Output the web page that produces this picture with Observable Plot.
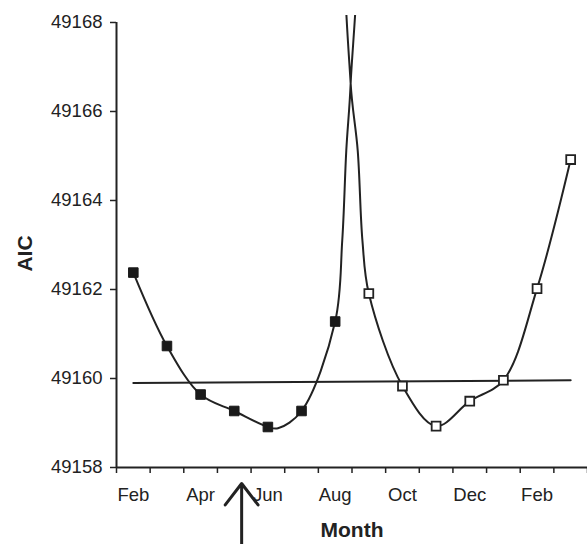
<!DOCTYPE html>
<html><head><meta charset="utf-8">
<script src="https://cdn.jsdelivr.net/npm/d3@7"></script>
<script src="https://cdn.jsdelivr.net/npm/@observablehq/plot@0.6"></script>
<style>body{margin:0;background:#fff}</style>
</head><body><div id="chart"></div>
<script>
// Month bands (index 0..13), observed AIC per month
const months = ["Feb","Mar","Apr","May","Jun","Jul","Aug","Sep","Oct","Nov","Dec","Jan","Feb","Mar"];
const aic = [49162.38, 49160.73, 49159.64, 49159.27, 49158.91, 49159.27, 49161.28,
             49161.91, 49159.83, 49158.93, 49159.49, 49159.96, 49162.02, 49164.92];
const marker = ["filled","filled","filled","filled","filled","filled","filled",
                "open","open","open","open","open","open","open"];

// Smooth fitted curve (spike runs off the top)
const curveMonth = [0, 1, 2, 3, 4, 4.3, 5, 6, 6.21, 6.33, 6.46, 6.57, 6.39, 6.46, 6.67, 6.81, 7, 8, 9, 10, 11, 12, 13];
const curveAIC = [49162.38, 49160.73, 49159.64, 49159.27, 49158.91, 49158.88, 49159.27, 49161.28,
                  49163.1, 49165.12, 49166.63, 49170.0, 49170.0, 49166.63, 49165.12, 49163.1,
                  49161.91, 49159.83, 49158.93, 49159.49, 49159.96, 49162.02, 49164.92];

// Horizontal reference line
const refMonth = [0, 13];
const refAIC = [49159.90, 49159.96];

// Arrow under the axis
const arrowMonth = [3.22];
const arrowTip = 49157.64;
const arrowTail = 49155.0;

const yTicks = [49158, 49160, 49162, 49164, 49166, 49168];
const labelIdx = [0, 2, 4, 6, 8, 10, 12];

const pts = months.map((m, i) => ({i, m, aic: aic[i], marker: marker[i]}));
const curve = curveMonth.map((x, k) => ({x, y: curveAIC[k]}));
const ref = refMonth.map((x, k) => ({x, y: refAIC[k]}));
const bounds = d3.range(months.length + 1).map(i => i - 0.5);
const ink = "#222";

const chart = Plot.plot({
  width: 587, height: 544,
  marginLeft: 116, marginRight: 0, marginTop: 15, marginBottom: 77,
  x: {domain: [-0.5, months.length - 0.5]},
  y: {domain: [49158, 49168.157]},
  style: {fontFamily: "'Liberation Sans', Arial, sans-serif", fontSize: "18.5px", color: ink, background: "#fff"},
  marks: [
    Plot.axisY(yTicks, {tickSize: 6, tickPadding: 8, label: null, strokeWidth: 1.5, fontSize: 18.5, tickFormat: d => String(d)}),
    Plot.axisX(bounds, {tickSize: 6, tickFormat: () => "", label: null, strokeWidth: 1.5}),
    Plot.axisX(labelIdx, {tickSize: 0, tickPadding: 20, fontSize: 18.5, tickFormat: i => months[i], label: null}),
    Plot.ruleX([-0.5], {y1: 49158, y2: 49168, stroke: ink, strokeWidth: 2}),
    Plot.ruleY([49158], {stroke: ink, strokeWidth: 2}),
    Plot.line(ref, {x: "x", y: "y", stroke: ink, strokeWidth: 2}),
    Plot.line(curve, {x: "x", y: "y", curve: "catmull-rom", clip: true, stroke: ink, strokeWidth: 2}),
    Plot.dot(pts.filter(d => d.marker === "filled"), {x: "i", y: "aic", symbol: "square", r: 5.4, fill: "#1a1a1a", stroke: "#1a1a1a", strokeWidth: 1}),
    Plot.dot(pts.filter(d => d.marker === "open"), {x: "i", y: "aic", symbol: "square", r: 5, fill: "#fff", stroke: ink, strokeWidth: 1.8}),
    Plot.arrow(arrowMonth, {x: d => d, y1: arrowTail, y2: arrowTip, stroke: ink, strokeWidth: 3, headAngle: 75, headLength: 13.5}),
    Plot.text(["AIC"], {frameAnchor: "left", textAnchor: "middle", lineAnchor: "middle", rotate: -90, dx: -91, dy: 12, fontSize: 21, fontWeight: "bold", fill: ink}),
    Plot.text(["Month"], {frameAnchor: "bottom", textAnchor: "middle", lineAnchor: "middle", dy: 63, fontSize: 21, fontWeight: "bold", fill: ink})
  ]
});
document.getElementById("chart").appendChild(chart);
</script>
</body></html>
